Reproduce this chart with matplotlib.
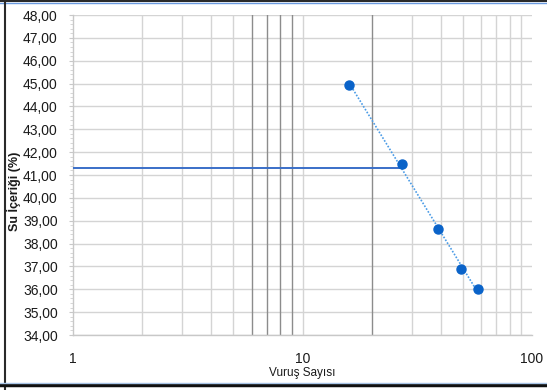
import numpy as np
import matplotlib
matplotlib.use("Agg")
import matplotlib.pyplot as plt
from matplotlib.ticker import FixedLocator, NullFormatter, FixedFormatter
from matplotlib.lines import Line2D

# Data
blows = [16.0, 27.1, 38.8, 48.9, 58.0]
water = [44.94, 41.48, 38.63, 36.88, 36.03]
ll_x = [1.0, 27.4]
ll_y = [41.29, 41.29]
y_ticks = list(range(34, 49))
y_labels = [f"{v},00" for v in y_ticks]
x_ticks = [1, 10, 100]
x_labels = ["1", "10", "100"]
light_grid_x = [2, 3, 4, 5, 10, 30, 40, 50, 60, 70, 80, 90]
dark_grid_x = [6, 7, 8, 9, 20]

plt.rcParams['font.family'] = ['Liberation Sans', 'DejaVu Sans']

fig = plt.figure(figsize=(5.47, 3.90), dpi=100)
ax = fig.add_axes([73/547, 1-335/390, (532-73)/547, 320/390])
ax.set_xscale('log')
ax.set_xlim(1, 100)
ax.set_ylim(34, 48)

for v in y_ticks:
    ax.axhline(v, color='#d4d4d4', lw=1.0, zorder=0)
for v in light_grid_x:
    ax.axvline(v, color='#d4d4d4', lw=1.0, zorder=0)
for v in dark_grid_x:
    ax.axvline(v, color='#8c8c8c', lw=1.0, zorder=0)

# trend line (least squares in log space)
b, a = np.polyfit(np.log10(blows), water, 1)
tx = np.array([min(blows), max(blows)])
ax.plot(tx, a + b*np.log10(tx), linestyle=(0, (1, 1)), color='#4a9be6', lw=1.2, zorder=2)

ax.plot(ll_x, ll_y, color='#3a6fc8', lw=1.4, zorder=3)
ax.plot(blows, water, linestyle='none', marker='o', markersize=6.5,
        markerfacecolor='#0a63c9', markeredgecolor='#0a63c9', zorder=4)

for s in ['top', 'right']:
    ax.spines[s].set_visible(False)
for s in ['left', 'bottom']:
    ax.spines[s].set_color('#c8c8c8')
    ax.spines[s].set_linewidth(1.0)

ax.yaxis.set_major_locator(FixedLocator(y_ticks))
ax.yaxis.set_major_formatter(FixedFormatter(y_labels))
ax.yaxis.set_minor_locator(FixedLocator(np.arange(34, 48.01, 0.2)))
ax.tick_params(axis='y', which='major', length=3, color='#c8c8c8', pad=8, labelsize=10, labelcolor='#1a1a1a')
ax.tick_params(axis='y', which='minor', length=2, color='#d0d0d0')

ax.xaxis.set_major_locator(FixedLocator(x_ticks))
ax.xaxis.set_major_formatter(FixedFormatter(x_labels))
ax.xaxis.set_minor_locator(FixedLocator([]))
ax.xaxis.set_minor_formatter(NullFormatter())
ax.tick_params(axis='x', which='major', length=0, pad=12, labelsize=10, labelcolor='#1a1a1a')

ax.set_xlabel('Vuruş Sayısı', fontsize=8.5, labelpad=1, color='#1a1a1a')
ax.set_ylabel('Su İçeriği (%)', fontsize=9, fontweight='bold', color='#1a1a1a')
ax.yaxis.set_label_coords(-0.113, 0.45)

# outer frame
fig.add_artist(Line2D([0, 1], [1-1/390, 1-1/390], color='#2a2a2a', lw=1.5, transform=fig.transFigure))
fig.add_artist(Line2D([0, 1], [1-3/390, 1-3/390], color='#6a9ae0', lw=1.0, transform=fig.transFigure))
fig.add_artist(Line2D([5/547, 5/547], [0, 1], color='#2a2a2a', lw=1.5, transform=fig.transFigure))
fig.add_artist(Line2D([0, 1], [5/390, 5/390], color='#111111', lw=2.5, transform=fig.transFigure))
fig.add_artist(Line2D([0, 1], [7.5/390, 7.5/390], color='#a8c4e6', lw=1.0, transform=fig.transFigure))

fig.savefig('out.png', dpi=100)
